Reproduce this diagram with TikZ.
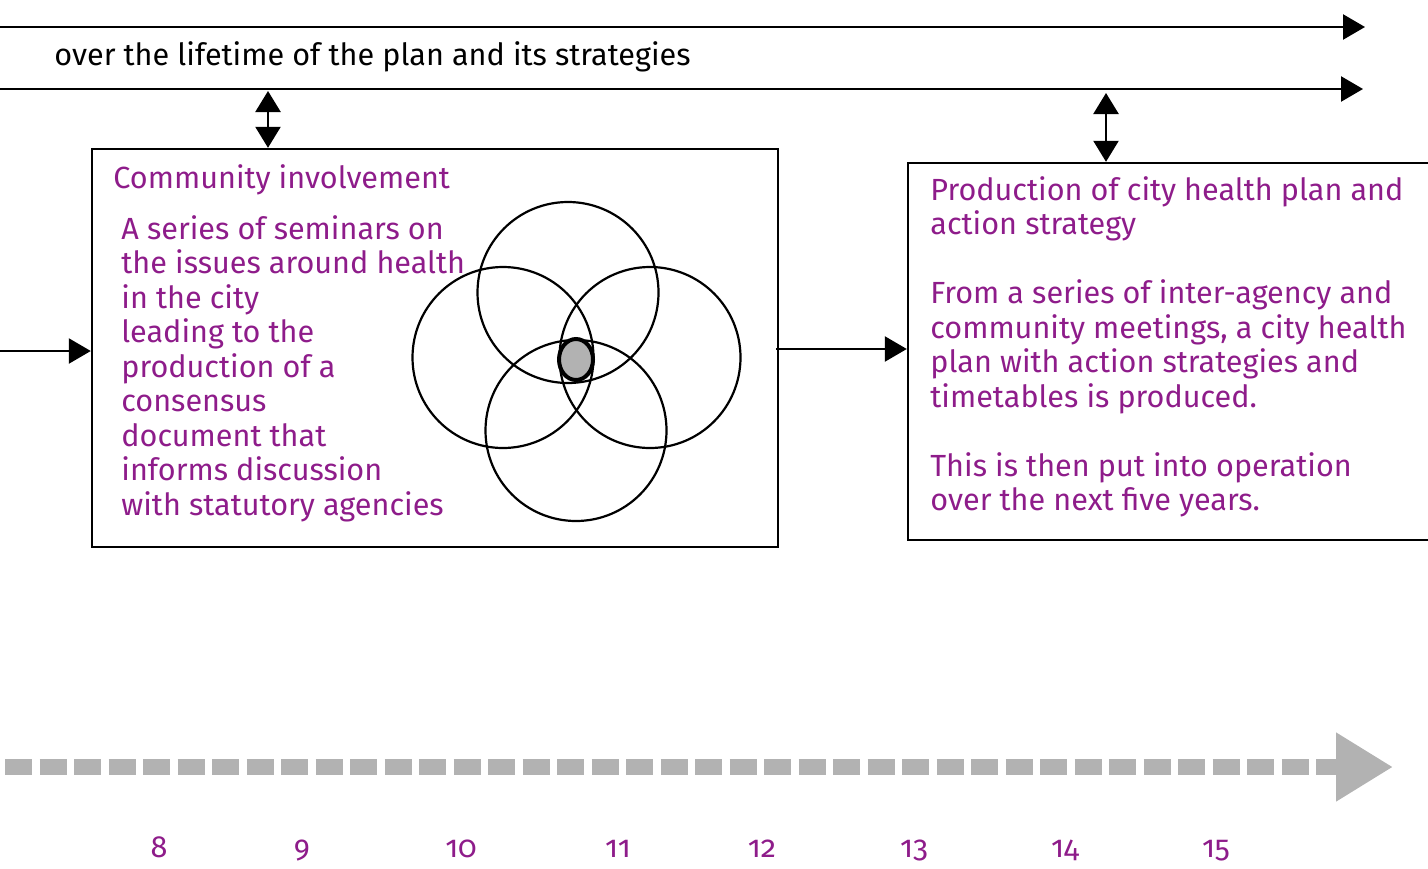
\documentclass[tikz,border=0pt]{standalone}
\usepackage{fontspec}
\setmainfont{Fira Sans}
\newfontfamily\yearfont[Numbers=OldStyle]{Fira Sans}
\usetikzlibrary{arrows.meta, positioning}

\definecolor{plum}{RGB}{142,28,138}
\definecolor{timegrey}{RGB}{178,178,178}

\tikzset{
  bodytext/.style={text=plum, align=left, inner sep=0pt, anchor=base west, font=\fontsize{15.3}{17.25}\selectfont},
  flowline/.style={line width=1.2pt, -{Triangle[length=11pt, width=12.5pt]}},
  twoway/.style={line width=1.2pt, {Triangle[length=10.5pt, width=12.5pt]}-{Triangle[length=10.5pt, width=12.5pt]}},
  stagebox/.style={draw, line width=1.2pt, inner sep=0pt},
  ring/.style={line width=1.1pt}
}

\begin{document}
\begin{tikzpicture}[x=0.5pt, y=-0.5pt]
\useasboundingbox (0,0) rectangle (1428,868);
\clip (0,0) rectangle (1428,868);

% timeline of the plan
\coordinate (lifeA) at (0,27);
\coordinate (lifeAend) at (1365,27);
\coordinate (lifeB) at (0,89);
\coordinate (lifeBend) at (1363,89);
\draw[flowline] (lifeA) -- (lifeAend);
\draw[flowline] (lifeB) -- (lifeBend);
\node[bodytext, text=black] (lifetime) at (54,65) {over the lifetime of the plan and its strategies};

% the two stages
\node[stagebox, minimum width=343pt, minimum height=199pt] (community) at (435,348) {};
\node[stagebox, minimum width=276pt, minimum height=188.5pt] (production) at (1184,351.5) {};

\node[bodytext] (communityhead) at (113,188) {Community involvement};
\node[bodytext] (communitytext) at (121,515.3) {A series of seminars on\\the issues around health\\in the city\\leading to the\\production of a\\consensus\\document that\\informs discussion\\with statutory agencies};
\node[bodytext] (productiontext) at (930,510.5) {Production of city health plan and\\action strategy\\[17.25pt]From a series of inter-agency and\\community meetings, a city health\\plan with action strategies and\\timetables is produced.\\[17.25pt]This is then put into operation\\over the next five years.};

% overlapping circles
\draw[ring] (568,292.5) circle[radius=90.5];
\draw[ring] (503,357.5) circle[radius=90.5];
\draw[ring] (650,357.5) circle[radius=90.5];
\draw[ring] (576,430.5) circle[radius=90.5];
\draw[line width=2pt, fill=timegrey] (576,359.5) ellipse[x radius=17, y radius=20.5];

% links
\coordinate (linkA) at (268,91);
\coordinate (linkB) at (1106,93);
\draw[twoway] (linkA) -- (linkA |- community.north);
\draw[twoway] (linkB) -- (linkB |- production.north);
\coordinate (inflow) at (0,351);
\draw[flowline] (inflow) -- (inflow -| community.west);
\coordinate (handover) at (776,349);
\draw[flowline] (handover) -- (handover -| production.west);

% years
\draw[timegrey, line width=8pt, dash pattern=on 13.5pt off 3.75pt, -{Triangle[length=28.5pt, width=32.5pt]}] (5,767) -- (1393,767);
\foreach \yr/\xpos in {8/159, 9/302, 10/461, 11/618, 12/762, 13/914, 14/1065, 15/1216}
  \node[text=plum, anchor=base, inner sep=0pt, font=\yearfont\fontsize{15.3}{17.25}\selectfont] (year\yr) at (\xpos,857) {\yr};

\end{tikzpicture}
\end{document}
